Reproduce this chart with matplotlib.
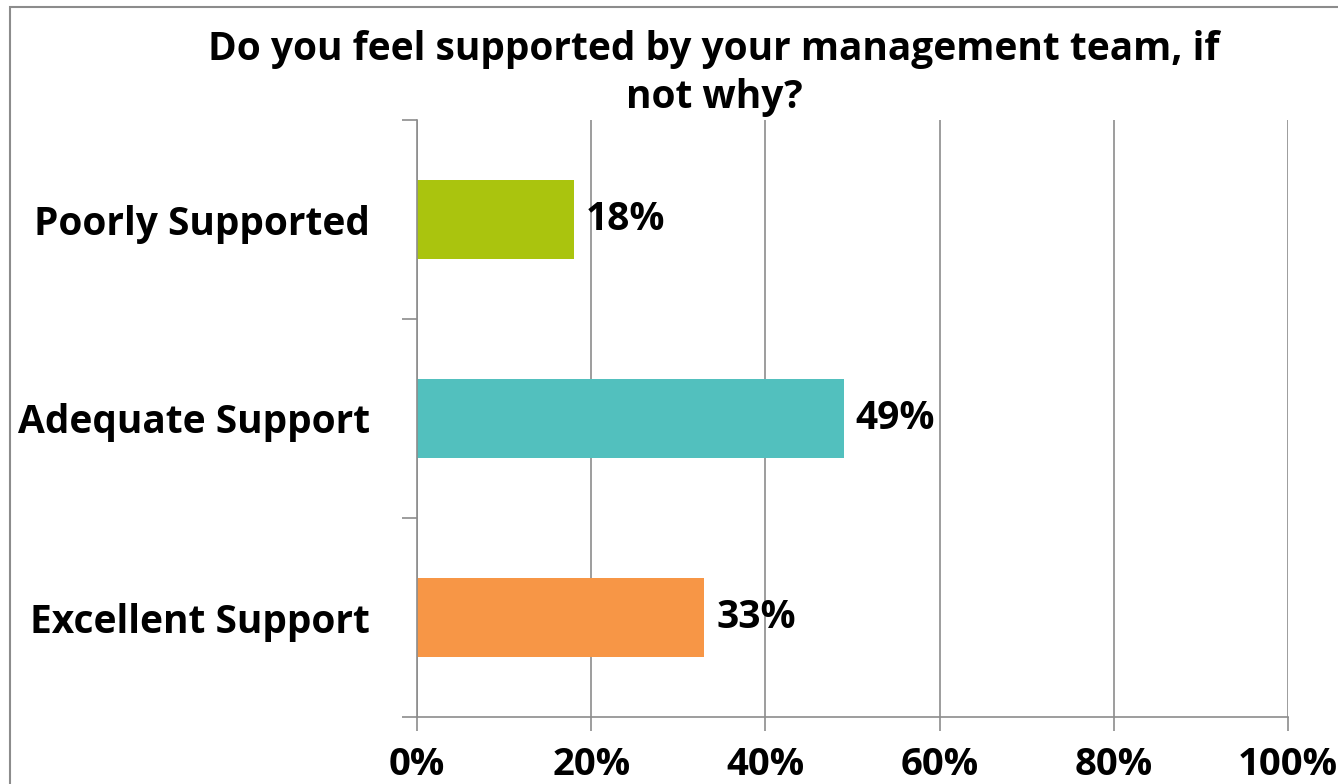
import matplotlib.pyplot as plt
from matplotlib.patches import Rectangle
from matplotlib.ticker import FixedLocator, FuncFormatter

plt.rcParams['font.family'] = ['Open Sans', 'DejaVu Sans']
plt.rcParams['font.weight'] = 'bold'

categories = ['Poorly Supported', 'Adequate Support', 'Excellent Support']
percent = [18, 49, 33]
colors = ['#AAC40E', '#52C0BE', '#F79646']
x_ticks = [0, 20, 40, 60, 80, 100]
title_lines = ['Do you feel supported by your management team, if', 'not why?']

fig = plt.figure(figsize=(13.38, 7.84), dpi=100)
ax = fig.add_axes([417 / 1338, 67 / 784, 871 / 1338, 597 / 784])

pos = list(range(len(categories)))
ax.barh(pos, percent, height=0.4, color=colors, zorder=2)
for y, v in zip(pos, percent):
    ax.annotate(f'{v}%', (v, y), xytext=(8.5, 0), textcoords='offset points',
                va='center', ha='left', fontsize=28, fontweight='bold')

ax.set_xlim(0, 100)
ax.set_ylim(len(categories) - 0.5, -0.5)
ax.set_xticks(x_ticks)
ax.xaxis.set_major_formatter(FuncFormatter(lambda v, _: f'{v:.0f}%'))
ax.set_yticks(pos)
ax.set_yticklabels(categories)
ax.yaxis.set_minor_locator(FixedLocator([-0.5, 0.5, 1.5, 2.5]))

ax.grid(axis='x', color='#8c8c8c', lw=1.2, zorder=0)
ax.set_axisbelow(True)
for side in ('top', 'right'):
    ax.spines[side].set_visible(False)
for side in ('left', 'bottom'):
    ax.spines[side].set_color('#8c8c8c')
    ax.spines[side].set_linewidth(1.2)

ax.tick_params(axis='y', which='major', length=0, pad=34, labelsize=28)
ax.tick_params(axis='y', which='minor', length=11, width=1.2, color='#8c8c8c')
ax.tick_params(axis='x', length=10, width=1.2, color='#8c8c8c', pad=11, labelsize=27.5)

for i, line in enumerate(title_lines):
    fig.text(714 / 1338, 1 - (60 + 48 * i) / 784, line,
             ha='center', va='baseline', fontsize=28, fontweight='bold')

# outer chart frame
fig.add_artist(Rectangle((10 / 1338, -0.1), 1.2, 1.1 - 7 / 784, transform=fig.transFigure,
                         fill=False, ec='#8c8c8c', lw=1.5))

fig.savefig('out.png', dpi=100, facecolor='white')
